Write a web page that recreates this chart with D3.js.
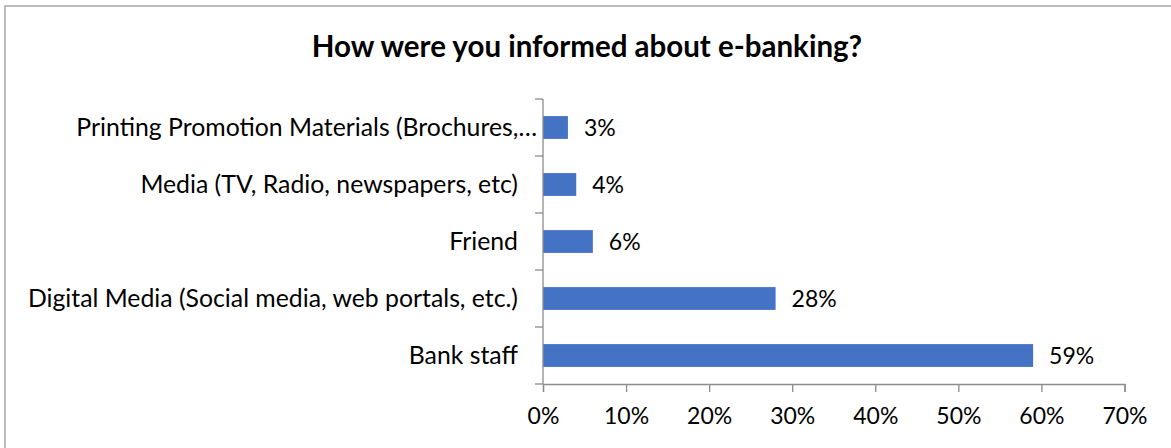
<!DOCTYPE html>
<html>
<head>
<meta charset="utf-8">
<script src="https://cdn.jsdelivr.net/npm/d3@7"></script>
<style>
  html, body { margin: 0; padding: 0; background: #fff; }
  svg { display: block; }
  text { font-family: Lato, "Open Sans", sans-serif; fill: #000; }
</style>
</head>
<body>
<svg id="chart" width="1171" height="448"></svg>
<script>
// Survey answers, listed top to bottom
const categories = [
  "Printing Promotion Materials (Brochures,…",
  "Media (TV, Radio, newspapers, etc)",
  "Friend",
  "Digital Media (Social media, web portals, etc.)",
  "Bank staff"
];
const shares = [0.03, 0.04, 0.06, 0.28, 0.59];
const tickValues = [0, 0.1, 0.2, 0.3, 0.4, 0.5, 0.6, 0.7];
const title = "How were you informed about e-banking?";

const svg = d3.select("#chart");
const W = 1171, H = 448;
const plot = { left: 543, right: 1124.5, top: 99, bottom: 384 };

// chart frame
svg.append("rect")
  .attr("x", 5).attr("y", 6)
  .attr("width", W + 10).attr("height", H + 10)
  .attr("fill", "#fff")
  .attr("stroke", "#a6a6a6")
  .attr("stroke-width", 1.5);

svg.append("text")
  .attr("x", 587).attr("y", 57)
  .attr("text-anchor", "middle")
  .attr("font-weight", "bold")
  .attr("font-size", 29.5)
  .text(title);

const x = d3.scaleLinear().domain([0, 0.7]).range([plot.left, plot.right]);
const y = d3.scaleBand().domain(categories)
  .range([plot.top, plot.bottom])
  .paddingInner(0.6).paddingOuter(0.3);

const data = categories.map((c, i) => ({ cat: c, v: shares[i] }));

// bars
svg.append("g").selectAll("rect").data(data).join("rect")
  .attr("x", x(0))
  .attr("y", d => y(d.cat))
  .attr("width", d => x(d.v) - x(0))
  .attr("height", y.bandwidth())
  .attr("fill", "#4472C4");

// value labels
svg.append("g").selectAll("text").data(data).join("text")
  .attr("x", d => x(d.v) + 16)
  .attr("y", d => y(d.cat) + y.bandwidth() / 2 + 8)
  .attr("font-size", 23)
  .text(d => d3.format(".0%")(d.v));

// x axis
const xAxis = svg.append("g")
  .attr("transform", `translate(0,${plot.bottom})`)
  .call(d3.axisBottom(x).tickValues(tickValues).tickFormat(d3.format(".0%")).tickSize(8).tickPadding(16));
xAxis.select(".domain").attr("stroke", "#8c8c8c").attr("stroke-width", 1.3);
xAxis.selectAll(".tick line").attr("stroke", "#8c8c8c").attr("stroke-width", 1.3);
xAxis.selectAll(".tick text")
  .attr("font-size", 23).attr("font-family", "Lato, sans-serif").attr("fill", "#000");

// category axis: ticks at band boundaries
const yAxisG = svg.append("g");
yAxisG.append("line")
  .attr("x1", plot.left).attr("x2", plot.left)
  .attr("y1", plot.top).attr("y2", plot.bottom)
  .attr("stroke", "#8c8c8c").attr("stroke-width", 1.3);
const boundaries = categories.map(c => y(c) - y.step() * y.paddingInner() / 2);
boundaries.push(plot.bottom);
yAxisG.selectAll("line.tk").data(boundaries).join("line")
  .attr("class", "tk")
  .attr("x1", plot.left - 8).attr("x2", plot.left)
  .attr("y1", d => d).attr("y2", d => d)
  .attr("stroke", "#8c8c8c").attr("stroke-width", 1.3);
// truncated labels run a little closer to the axis
yAxisG.selectAll("text").data(categories).join("text")
  .attr("x", d => d.endsWith("…") ? plot.left - 6 : plot.left - 25)
  .attr("y", d => y(d) + y.bandwidth() / 2 + 8)
  .attr("text-anchor", "end")
  .attr("font-size", 24.8)
  .text(d => d);
</script>
</body>
</html>
